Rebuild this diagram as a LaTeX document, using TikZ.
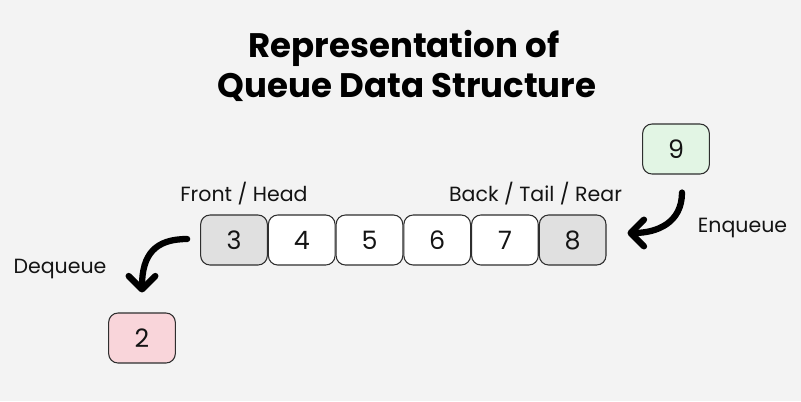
\documentclass[tikz,border=0pt]{standalone}
\usepackage{fontspec}
\setmainfont{Poppins}
\usetikzlibrary{arrows.meta,calc,positioning}

\definecolor{bgcol}{HTML}{F3F3F3}
\definecolor{inkcol}{HTML}{141414}
\definecolor{edgecol}{HTML}{2E2E2E}
\definecolor{endcol}{HTML}{E0E0E0}
\definecolor{outcol}{HTML}{F9D5DA}
\definecolor{incol}{HTML}{E2F5E4}

\tikzset{
  cell/.style={draw=edgecol, line width=0.8pt, rounded corners=7pt,
    minimum width=50pt, minimum height=37.5pt, inner sep=0pt,
    fill=white, text=inkcol, font=\fontsize{19}{19}\selectfont},
  endcell/.style={cell, fill=endcol},
  lbl/.style={anchor=base, text=inkcol, inner sep=0pt, font=\fontsize{15.4}{15.4}\selectfont},
  ttl/.style={anchor=base, text=black, inner sep=0pt, font=\fontsize{25.5}{25.5}\selectfont\bfseries},
  move/.style={line width=4.7pt, line cap=round, draw=black,
    -{Straight Barb[length=10pt, width=20pt, line cap=round, line join=round]}}
}

\begin{document}
\begin{tikzpicture}[x=0.75pt, y=-0.75pt]
\fill[bgcol] (0,0) rectangle (801,401);
\useasboundingbox (0,0) rectangle (801,401);

% title
\node[ttl] (t1) at (404,57) {Representation of};
\node[ttl] (t2) at (407,97) {Queue Data Structure};

% the queue
\node[endcell] (b3) at (234,240) {3};
\node[cell, right=0pt of b3] (b4) {4};
\node[cell, right=0pt of b4] (b5) {5};
\node[cell, right=0pt of b5] (b6) {6};
\node[cell, right=0pt of b6] (b7) {7};
\node[endcell, right=0pt of b7] (b8) {8};

% leaving and joining
\node[cell, fill=outcol] (b2) at (142,338) {2};
\node[cell, fill=incol] (b9) at (676,149) {9};

\node[lbl] (front) at (244,201) {Front / Head};
\node[lbl] (back) at (535.5,201) {Back / Tail / Rear};
\node[lbl] (enq) at (742.5,232) {Enqueue};
\node[lbl] (deq) at (60,273) {Dequeue};

\coordinate (deqS) at ($(b3.west)+(-13,-1)$);
\coordinate (deqE) at ($(b2.north)+(0,-20)$);
\coordinate (enqS) at ($(b9.south)+(6,18)$);
\coordinate (enqE) at ($(b8.east)+(21,-7)$);

\draw[move] (deqS) .. controls +(-32,0) and +(0,-38) .. (deqE);
\draw[move] (enqS) .. controls +(0,30) and +(30,0) .. (enqE);
\end{tikzpicture}
\end{document}
